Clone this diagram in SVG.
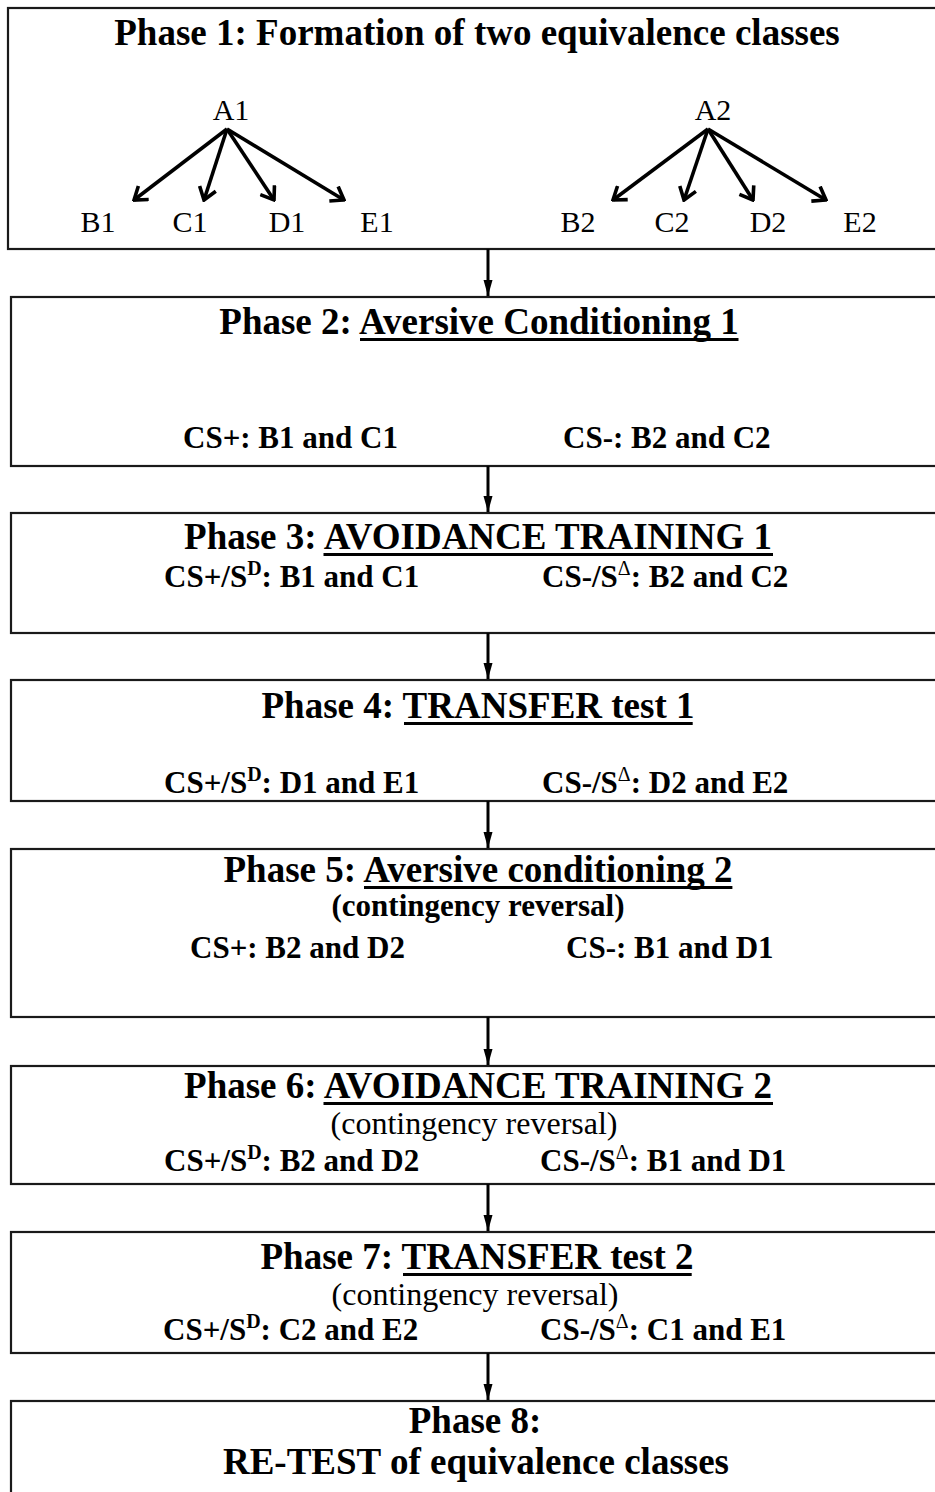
<svg xmlns="http://www.w3.org/2000/svg" width="935" height="1492" viewBox="0 0 935 1492">
<style>
.box{fill:#fff;stroke:#1a1a1a;stroke-width:2.2}
.t{font-family:"Liberation Serif","Times New Roman",serif;fill:#000}
.title{font-size:37px;font-weight:bold;text-anchor:middle}
.sub{font-size:31px;font-weight:bold}
.reg{font-size:32px;font-weight:normal;text-anchor:middle}
.lab{font-size:30px;font-weight:normal;text-anchor:middle}
.ul{stroke:#000;stroke-width:3}
.arr{stroke:#000;stroke-width:3.6;fill:none}
.conn{stroke:#000;stroke-width:3;fill:none}
</style>
<defs>
<marker id="open" viewBox="0 0 16 20" refX="14" refY="10" markerWidth="16" markerHeight="20" markerUnits="userSpaceOnUse" orient="auto">
<path d="M2,1.5 L14,10 L2,18.5" fill="none" stroke="#000" stroke-width="3.6"/>
</marker>
<marker id="tri" viewBox="0 0 16 10" refX="16" refY="5" markerWidth="16" markerHeight="10" markerUnits="userSpaceOnUse" orient="auto">
<path d="M0,0.5 L16,5 L0,9.5 Z" fill="#000"/>
</marker>
</defs>

<g id="phase1">
<rect class="box" x="8" y="8" width="935" height="241"/>
<text class="t title" x="477" y="45">Phase 1: Formation of two equivalence classes</text>
<text class="t lab" x="231" y="120">A1</text>
<text class="t lab" x="98" y="232">B1</text>
<text class="t lab" x="190" y="232">C1</text>
<text class="t lab" x="287" y="232">D1</text>
<text class="t lab" x="377" y="232">E1</text>
<text class="t lab" x="713" y="120">A2</text>
<text class="t lab" x="578" y="232">B2</text>
<text class="t lab" x="672" y="232">C2</text>
<text class="t lab" x="768" y="232">D2</text>
<text class="t lab" x="860" y="232">E2</text>
<g class="arr">
<line x1="227" y1="129" x2="134" y2="200" marker-end="url(#open)"/>
<line x1="227" y1="129" x2="204" y2="200" marker-end="url(#open)"/>
<line x1="227" y1="129" x2="274" y2="200" marker-end="url(#open)"/>
<line x1="227" y1="129" x2="344" y2="200" marker-end="url(#open)"/>
<line x1="708" y1="129" x2="613" y2="200" marker-end="url(#open)"/>
<line x1="708" y1="129" x2="684" y2="200" marker-end="url(#open)"/>
<line x1="708" y1="129" x2="753" y2="200" marker-end="url(#open)"/>
<line x1="708" y1="129" x2="826" y2="200" marker-end="url(#open)"/>
</g>
</g>

<g id="phase2">
<rect class="box" x="11" y="297" width="935" height="169"/>
<text class="t title" x="479" y="334">Phase 2: Aversive Conditioning 1</text>
<line class="ul" x1="360" y1="339.5" x2="738.5" y2="339.5"/>
<text class="t sub" x="183" y="448">CS+: B1 and C1</text>
<text class="t sub" x="563" y="448">CS-: B2 and C2</text>
</g>

<g id="phase3">
<rect class="box" x="11" y="513" width="935" height="120"/>
<text class="t title" x="478" y="549">Phase 3: AVOIDANCE TRAINING 1</text>
<line class="ul" x1="323.5" y1="554.5" x2="773" y2="554.5"/>
<text class="t sub" x="164" y="587">CS+/S<tspan font-size="20" dy="-12">D</tspan><tspan dy="12">: B1 and C1</tspan></text>
<text class="t sub" x="542" y="587">CS-/S<tspan font-size="20" font-weight="normal" dy="-12">Δ</tspan><tspan dy="12">: B2 and C2</tspan></text>
</g>

<g id="phase4">
<rect class="box" x="11" y="680" width="935" height="121"/>
<text class="t title" x="478" y="718">Phase 4: TRANSFER test 1</text>
<line class="ul" x1="404" y1="723.5" x2="692.7" y2="723.5"/>
<text class="t sub" x="164" y="793">CS+/S<tspan font-size="20" dy="-12">D</tspan><tspan dy="12">: D1 and E1</tspan></text>
<text class="t sub" x="542" y="793">CS-/S<tspan font-size="20" font-weight="normal" dy="-12">Δ</tspan><tspan dy="12">: D2 and E2</tspan></text>
</g>

<g id="phase5">
<rect class="box" x="11" y="849" width="935" height="168"/>
<text class="t title" x="478" y="882">Phase 5: Aversive conditioning 2</text>
<line class="ul" x1="364" y1="887.5" x2="732.4" y2="887.5"/>
<text class="t sub" x="478" y="916" text-anchor="middle">(contingency reversal)</text>
<text class="t sub" x="190" y="958">CS+: B2 and D2</text>
<text class="t sub" x="566" y="958">CS-: B1 and D1</text>
</g>

<g id="phase6">
<rect class="box" x="11" y="1066" width="935" height="118"/>
<text class="t title" x="478" y="1098">Phase 6: AVOIDANCE TRAINING 2</text>
<line class="ul" x1="323.5" y1="1103.5" x2="773" y2="1103.5"/>
<text class="t reg" x="474" y="1134">(contingency reversal)</text>
<text class="t sub" x="164" y="1171">CS+/S<tspan font-size="20" dy="-12">D</tspan><tspan dy="12">: B2 and D2</tspan></text>
<text class="t sub" x="540" y="1171">CS-/S<tspan font-size="20" font-weight="normal" dy="-12">Δ</tspan><tspan dy="12">: B1 and D1</tspan></text>
</g>

<g id="phase7">
<rect class="box" x="11" y="1232" width="935" height="121"/>
<text class="t title" x="477" y="1269">Phase 7: TRANSFER test 2</text>
<line class="ul" x1="403" y1="1274.5" x2="691.7" y2="1274.5"/>
<text class="t reg" x="475" y="1305">(contingency reversal)</text>
<text class="t sub" x="163" y="1340">CS+/S<tspan font-size="20" dy="-12">D</tspan><tspan dy="12">: C2 and E2</tspan></text>
<text class="t sub" x="540" y="1340">CS-/S<tspan font-size="20" font-weight="normal" dy="-12">Δ</tspan><tspan dy="12">: C1 and E1</tspan></text>
</g>

<g id="phase8">
<rect class="box" x="11" y="1401" width="935" height="120"/>
<text class="t title" x="475" y="1433">Phase 8:</text>
<text class="t title" x="476" y="1474">RE-TEST of equivalence classes</text>
</g>

<g id="connectors" class="conn">
<line x1="488" y1="249" x2="488" y2="296" marker-end="url(#tri)"/>
<line x1="488" y1="466" x2="488" y2="512" marker-end="url(#tri)"/>
<line x1="488" y1="633" x2="488" y2="679" marker-end="url(#tri)"/>
<line x1="488" y1="801" x2="488" y2="848" marker-end="url(#tri)"/>
<line x1="488" y1="1017" x2="488" y2="1065" marker-end="url(#tri)"/>
<line x1="488" y1="1184" x2="488" y2="1231" marker-end="url(#tri)"/>
<line x1="488" y1="1353" x2="488" y2="1400" marker-end="url(#tri)"/>
</g>
</svg>
